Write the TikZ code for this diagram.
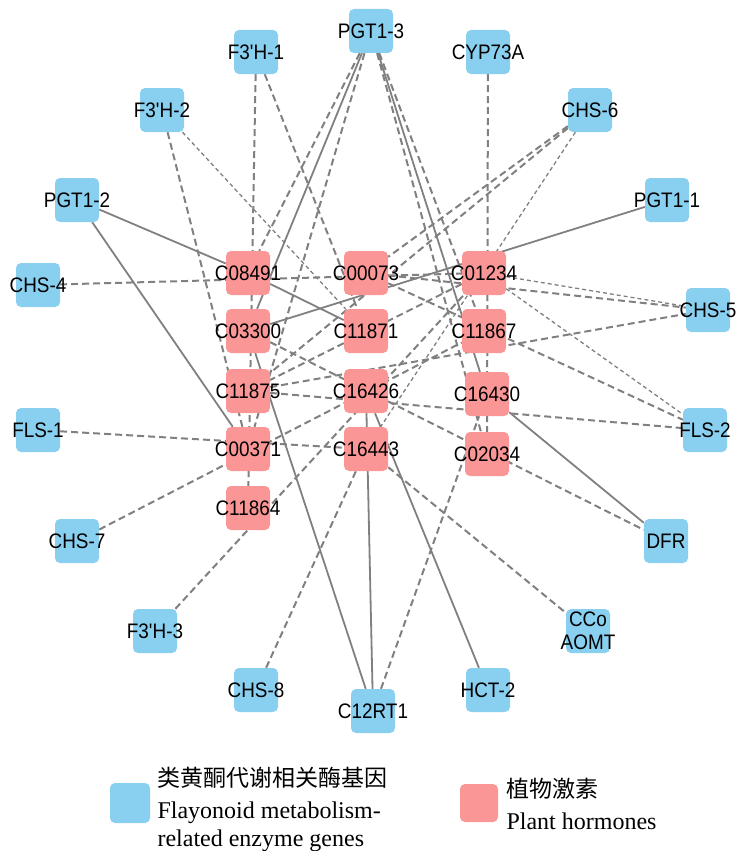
\documentclass[tikz,border=0pt]{standalone}
\usepackage{fontspec}
\setmainfont{Liberation Serif}
\newfontfamily\labfont[FakeStretch=0.9]{Liberation Sans}
\newfontfamily\cjk{Noto Sans CJK SC}
\usetikzlibrary{backgrounds}
\definecolor{genecol}{RGB}{137,207,240}
\definecolor{hormcol}{RGB}{250,150,150}
\definecolor{linecol}{RGB}{128,128,128}

\begin{document}
\begin{tikzpicture}[x=1pt,y=-1pt,
  gene/.style={rectangle,rounded corners=5pt,fill=genecol,minimum size=44pt,inner sep=0pt},
  horm/.style={gene,fill=hormcol},
  lab/.style={font=\labfont\fontsize{21}{23}\selectfont,inner sep=0pt,align=center},
  sol/.style={draw=linecol,line width=1.8pt},
  dsh/.style={draw=linecol,line width=2pt,dash pattern=on 7pt off 4pt},
  tdsh/.style={draw=linecol,line width=1.3pt,dash pattern=on 4pt off 3pt}]
\useasboundingbox (0,0) rectangle (745,851);
% genes
\node[gene,label={[lab]center:PGT1-3}] (PGT13) at (371,31) {};
\node[gene,label={[lab]center:F3'H-1}] (FH1) at (256,52) {};
\node[gene,label={[lab]center:CYP73A}] (CYP) at (488,52) {};
\node[gene,label={[lab]center:F3'H-2}] (FH2) at (162,110) {};
\node[gene,label={[lab]center:CHS-6}] (CHS6) at (590,110) {};
\node[gene,label={[lab]center:PGT1-2}] (PGT12) at (77,200) {};
\node[gene,label={[lab]center:PGT1-1}] (PGT11) at (667,200) {};
\node[gene,label={[lab]center:CHS-4}] (CHS4) at (38,285) {};
\node[gene,label={[lab]center:CHS-5}] (CHS5) at (708,310) {};
\node[gene,label={[lab]center:FLS-1}] (FLS1) at (38,430) {};
\node[gene,label={[lab]center:FLS-2}] (FLS2) at (705,430) {};
\node[gene,label={[lab]center:CHS-7}] (CHS7) at (77,541) {};
\node[gene,label={[lab]center:DFR}] (DFR) at (666,541) {};
\node[gene,label={[lab]center:F3'H-3}] (FH3) at (155,631) {};
\node[gene,label={[lab]center:CCo\\AOMT}] (CCOA) at (588,631) {};
\node[gene,label={[lab]center:CHS-8}] (CHS8) at (256,690) {};
\node[gene,label={[lab]center:HCT-2}] (HCT2) at (488,690) {};
\node[gene,label={[lab]center:C12RT1}] (C12RT1) at (373,711) {};
% hormones
\node[horm,label={[lab]center:C08491}] (C08491) at (248,273) {};
\node[horm,label={[lab]center:C00073}] (C00073) at (366,273) {};
\node[horm,label={[lab]center:C01234}] (C01234) at (484,273) {};
\node[horm,label={[lab]center:C03300}] (C03300) at (248,331) {};
\node[horm,label={[lab]center:C11871}] (C11871) at (366,331) {};
\node[horm,label={[lab]center:C11867}] (C11867) at (484,331) {};
\node[horm,label={[lab]center:C11875}] (C11875) at (248,391) {};
\node[horm,label={[lab]center:C16426}] (C16426) at (366,391) {};
\node[horm,label={[lab]center:C16430}] (C16430) at (487,394) {};
\node[horm,label={[lab]center:C00371}] (C00371) at (248,449) {};
\node[horm,label={[lab]center:C16443}] (C16443) at (366,449) {};
\node[horm,label={[lab]center:C02034}] (C02034) at (487,454) {};
\node[horm,label={[lab]center:C11864}] (C11864) at (248,508) {};
\begin{scope}[on background layer]
\draw[sol] (PGT13) -- (C03300);
\draw[sol] (PGT13) -- (C16430);
\draw[sol] (PGT12) -- (C08491);
\draw[sol] (PGT12) -- (C00371);
\draw[sol] (PGT11) -- (C03300);
\draw[sol] (C08491) -- (C11871);
\draw[sol] (C03300) -- (C12RT1);
\draw[sol] (C16426) -- (C12RT1);
\draw[sol] (C16426) -- (HCT2);
\draw[sol] (C16430) -- (DFR);
\draw[dsh] (PGT13) -- (C08491);
\draw[dsh] (PGT13) -- (C00371);
\draw[dsh] (PGT13) -- (C11867);
\draw[dsh] (PGT13) -- (C02034);
\draw[dsh] (FH1) -- (C11864);
\draw[dsh] (FH1) -- (C11871);
\draw[dsh] (CYP) -- (C02034);
\draw[dsh] (FH2) -- (C00371);
\draw[dsh] (CHS6) -- (C00073);
\draw[dsh] (CHS6) -- (C11875);
\draw[dsh] (CHS4) -- (C01234);
\draw[dsh] (C00073) -- (CHS5);
\draw[dsh] (C11875) -- (CHS5);
\draw[dsh] (C00073) -- (FLS2);
\draw[dsh] (C11875) -- (FLS2);
\draw[dsh] (C03300) -- (DFR);
\draw[dsh] (FLS1) -- (C16443);
\draw[dsh] (CHS7) -- (C11867);
\draw[dsh] (FH3) -- (C01234);
\draw[dsh] (CHS8) -- (C16443);
\draw[dsh] (C16443) -- (CCOA);
\draw[dsh] (C01234) -- (C11875);
\draw[dsh] (C12RT1) -- (C16430);
\draw[tdsh] (FH2) -- (C11871);
\draw[tdsh] (CHS6) -- (C16443);
\draw[tdsh] (C01234) -- (FLS2);
\draw[tdsh] (C01234) -- (CHS5);
\end{scope}
% legend
\node[gene,minimum size=40pt] (keygene) at (130,803) {};
\node[anchor=base west,font=\cjk\fontsize{23}{26}\selectfont] (keygenecn) at (154,786) {类黄酮代谢相关酶基因};
\node[anchor=base west,font=\fontsize{24}{28}\selectfont] (keygeneen) at (154,818) {Flayonoid metabolism-};
\node[anchor=base west,font=\fontsize{24}{28}\selectfont] (keygeneenb) at (154,846) {related enzyme genes};
\node[horm,minimum size=38pt] (keyhorm) at (479,803) {};
\node[anchor=base west,font=\cjk\fontsize{23}{26}\selectfont] (keyhormcn) at (503,797) {植物激素};
\node[anchor=base west,font=\fontsize{24}{28}\selectfont] (keyhormen) at (503,829) {Plant hormones};
\end{tikzpicture}
\end{document}
